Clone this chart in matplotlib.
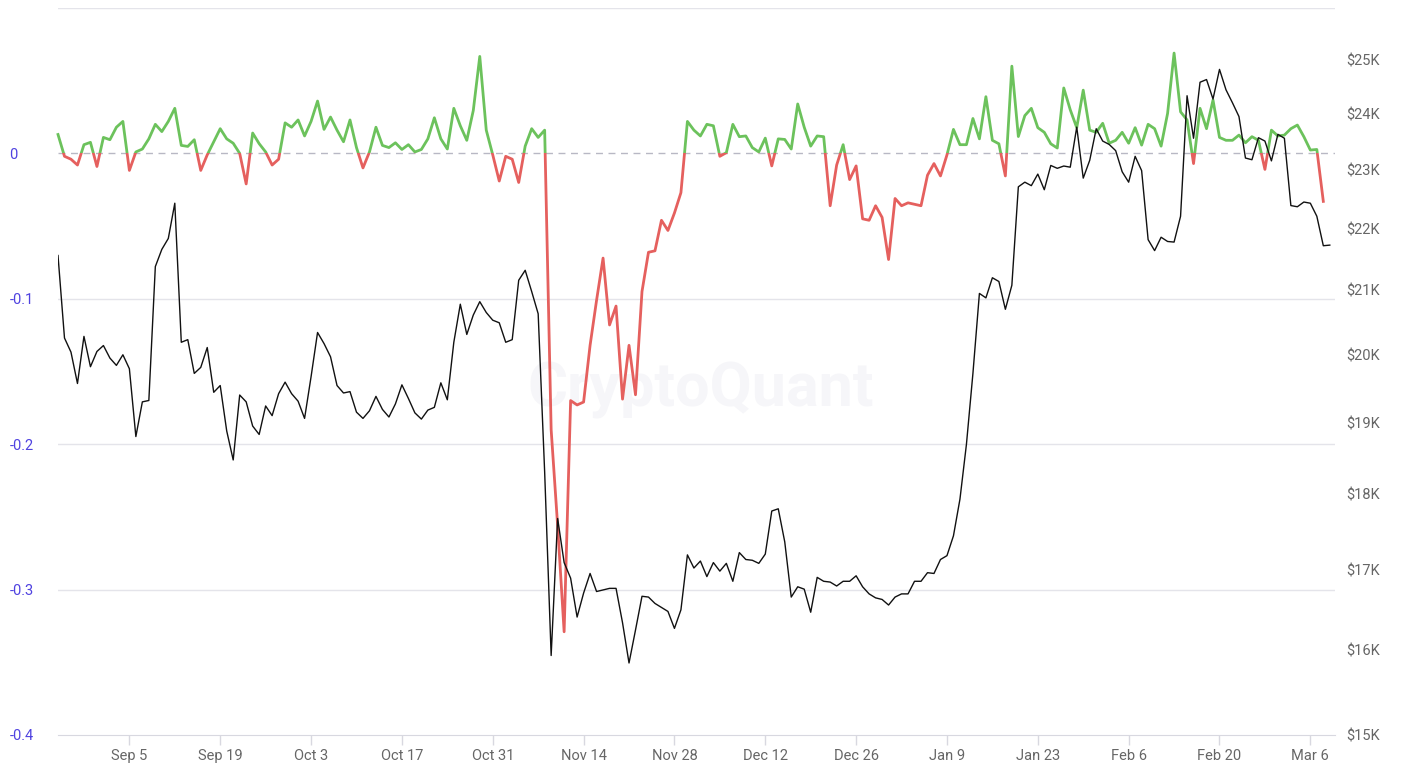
import numpy as np
import pandas as pd
import matplotlib
matplotlib.use("Agg")
import matplotlib.pyplot as plt
import matplotlib.dates as mdates
from matplotlib.patches import Rectangle
from matplotlib.ticker import NullLocator

# daily ratio (left axis), Aug 25 2022 onwards
ratio = [
    0.013, -0.002, -0.004, -0.008, 0.006, 0.0076, -0.009, 0.011, 0.0094, 0.018,
    0.022, -0.0117, 0.001, 0.003, 0.010, 0.020, 0.015, 0.022, 0.031, 0.0055,
    0.0048, 0.0094, -0.0117, -0.001, 0.008, 0.017, 0.010, 0.007, 0.000, -0.021,
    0.014, 0.0067, 0.001, -0.008, -0.004, 0.021, 0.018, 0.023, 0.012, 0.022,
    0.036, 0.0165, 0.025, 0.016, 0.008, 0.023, 0.004, -0.010, 0.001, 0.018,
    0.0055, 0.004, 0.0073, 0.0027, 0.006, 0.001, 0.0027, 0.010, 0.0245, 0.010,
    0.003, 0.031, 0.019, 0.009, 0.0295, 0.0667, 0.016, -0.001, -0.019, -0.002,
    -0.004, -0.020, 0.005, 0.017, 0.011, 0.016, -0.19, -0.256, -0.329, -0.170,
    -0.173, -0.171, -0.132, -0.101, -0.072, -0.118, -0.105, -0.169, -0.132, -0.166,
    -0.095, -0.068, -0.067, -0.046, -0.053, -0.041, -0.027, 0.022, 0.016, 0.012,
    0.020, 0.019, -0.002, 0.0005, 0.020, 0.0115, 0.012, 0.004, 0.001, 0.0105,
    -0.0086, 0.010, 0.0096, 0.003, 0.034, 0.018, 0.005, 0.012, 0.0115, -0.036,
    -0.008, 0.006, -0.018, -0.0086, -0.045, -0.046, -0.036, -0.044, -0.073, -0.031,
    -0.036, -0.034, -0.035, -0.036, -0.015, -0.007, -0.0155, -0.001, 0.0165, 0.006,
    0.006, 0.024, 0.010, 0.039, 0.009, 0.0066, -0.0155, 0.060, 0.0116, 0.026,
    0.031, 0.0177, 0.0145, 0.0066, 0.0037, 0.045, 0.030, 0.0177, 0.0435, 0.016,
    0.0145, 0.0207, 0.007, 0.009, 0.0145, 0.007, 0.0177, 0.0057, 0.020, 0.017,
    0.005, 0.0275, 0.069, 0.0286, 0.023, -0.007, 0.031, 0.017, 0.0367, 0.011,
    0.009, 0.009, 0.0126, 0.0073, 0.0115, 0.009, -0.011, 0.016, 0.012, 0.0126,
    0.017, 0.0195, 0.0115, 0.0023, 0.0027, -0.033,
]

# daily BTC price (right axis, log)
price = [
    21560, 20255, 20040, 19570, 20280, 19820, 20050, 20140, 19950, 19840,
    20000, 19790, 18800, 19300, 19320, 21380, 21660, 21840, 22430, 20190,
    20230, 19720, 19810, 20110, 19440, 19540, 18880, 18470, 19400, 19300,
    18950, 18830, 19240, 19100, 19420, 19590, 19420, 19310, 19060, 19670,
    20340, 20170, 19970, 19540, 19430, 19450, 19150, 19060, 19170, 19380,
    19190, 19080, 19270, 19550, 19350, 19140, 19050, 19180, 19220, 19580,
    19330, 20190, 20780, 20310, 20610, 20820, 20650, 20530, 20490, 20190,
    20230, 21160, 21320, 20980, 20630, 18300, 15930, 17670, 17090, 16890,
    16400, 16700, 16950, 16720, 16740, 16760, 16760, 16330, 15840, 16240,
    16660, 16650, 16570, 16520, 16470, 16260, 16490, 17190, 17020, 17110,
    16910, 17090, 16980, 17080, 16850, 17220, 17130, 17120, 17080, 17200,
    17770, 17800, 17360, 16650, 16780, 16750, 16460, 16900, 16850, 16840,
    16790, 16850, 16850, 16920, 16780, 16690, 16640, 16620, 16550, 16650,
    16690, 16690, 16850, 16850, 16960, 16950, 17130, 17180, 17440, 17930,
    18690, 19720, 20950, 20880, 21200, 21140, 20700, 21080, 22710, 22790,
    22730, 22930, 22660, 23080, 23030, 23070, 23050, 23760, 22860, 23170,
    23730, 23510, 23450, 23340, 22970, 22790, 23240, 22990, 21820, 21640,
    21860, 21790, 21780, 22210, 24330, 23560, 24580, 24630, 24270, 24820,
    24440, 24200, 23950, 23210, 23180, 23570, 23510, 23160, 23630, 23560,
    22390, 22370, 22450, 22430, 22210, 21720, 21730,
]

ratio_dates = pd.date_range("2022-08-25", periods=len(ratio), freq="D")
price_dates = pd.date_range("2022-08-25", periods=len(price), freq="D")

tick_dates = pd.date_range("2022-09-05", "2023-03-06", freq="14D")
tick_labels = [f"{d:%b} {d.day}" for d in tick_dates]

ratio_ticks = [-0.4, -0.3, -0.2, -0.1, 0]
ratio_labels = ["-0.4", "-0.3", "-0.2", "-0.1", "0"]
price_ticks = [15000, 16000, 17000, 18000, 19000, 20000, 21000, 22000, 23000, 24000, 25000]
price_labels = ["$15K", "$16K", "$17K", "$18K", "$19K", "$20K", "$21K", "$22K", "$23K", "$24K", "$25K"]

plt.rcParams["font.family"] = ["Roboto", "DejaVu Sans"]

W, H = 1403, 767
fig = plt.figure(figsize=(W / 100, H / 100), dpi=100)
ax = fig.add_axes([58 / W, 32 / H, 1277 / W, 727 / H])
ax2 = ax.twinx()

x_start = mdates.date2num(ratio_dates[0])
ax.set_xlim(x_start, x_start + 196.8)
ax.set_ylim(-0.4, 0.1)

# grid
for g in [-0.3, -0.2, -0.1, 0.1]:
    ax.axhline(g, color="#e4e4ea", lw=1, zorder=1)
ax.axhline(0, color="#b8b8c4", lw=1, ls=(0, (5, 4)), zorder=1)

# watermark
ax.text(0.503, 0.475, "CryptoQuant", transform=ax.transAxes, ha="center", va="center",
        fontsize=44, fontweight="bold", color="#f6f6f9", zorder=0)

# ratio line, green above zero, red below
above = Rectangle((x_start - 10, 0), 400, 1, transform=ax.transData)
below = Rectangle((x_start - 10, -1), 400, 1, transform=ax.transData)
lg, = ax.plot(ratio_dates, ratio, color="#6cc25c", lw=2.0, solid_joinstyle="round", zorder=3)
lr, = ax.plot(ratio_dates, ratio, color="#e5605e", lw=2.0, solid_joinstyle="round", zorder=3)
lg.set_clip_path(above)
lr.set_clip_path(below)

# price line
ax2.plot(price_dates, price, color="#111111", lw=1.0, zorder=4)
ax2.set_yscale("log")
ax2.set_ylim(15000, 26000)
ax2.set_yticks(price_ticks, price_labels)
ax2.yaxis.set_minor_locator(NullLocator())
ax2.tick_params(axis="y", length=0, pad=8, labelcolor="#666666", labelsize=10.5)
plt.setp(ax2.get_yticklabels(), ha="left")

ax.set_yticks(ratio_ticks, ratio_labels)
ax.tick_params(axis="y", length=0, pad=35, labelcolor="#4f42e0", labelsize=10.5)
plt.setp(ax.get_yticklabels(), ha="left")

ax.set_xticks(tick_dates, tick_labels)
ax.tick_params(axis="x", length=7, width=1, color="#d8d8e0", pad=3,
               labelcolor="#666666", labelsize=10.5)

for s in ["top", "left", "right"]:
    ax.spines[s].set_visible(False)
    ax2.spines[s].set_visible(False)
ax2.spines["bottom"].set_visible(False)
ax.spines["bottom"].set_color("#d8d8e0")

fig.savefig("out.png", dpi=100)
